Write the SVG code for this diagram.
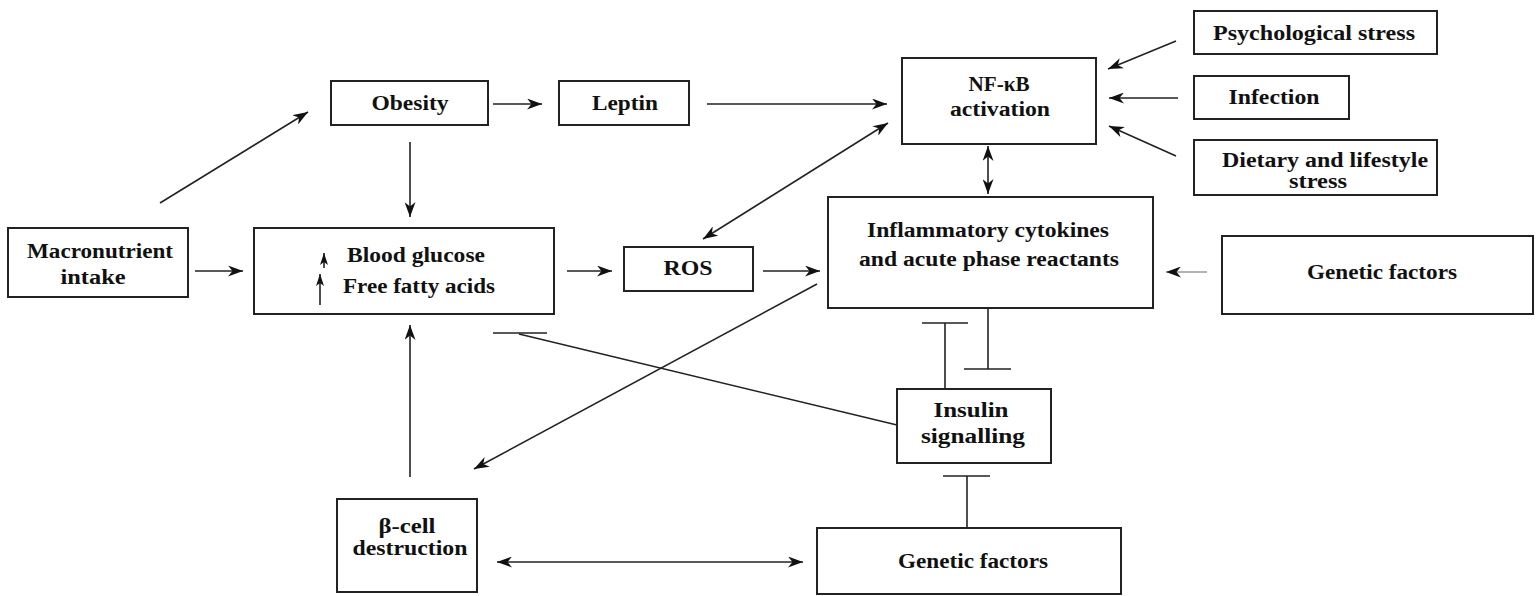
<svg xmlns="http://www.w3.org/2000/svg" width="1539" height="596" viewBox="0 0 1539 596">
<style>
.box{fill:#fff;stroke:#222;stroke-width:2}
.t{font-family:"Liberation Serif","DejaVu Serif",serif;font-weight:bold;font-size:20px;fill:#111;text-anchor:middle}
.c{stroke:#222;stroke-width:1.6;fill:none}
.a{marker-end:url(#ah)}
.b{marker-start:url(#ah);marker-end:url(#ah)}
</style>
<defs>
<marker id="ah" viewBox="0 0 15 11" refX="15" refY="5.5" markerWidth="15" markerHeight="11" markerUnits="userSpaceOnUse" orient="auto-start-reverse"><path d="M0,0 L15,5.5 L0,11 L4.5,5.5 z" fill="#111"/></marker>
<marker id="sh" viewBox="0 0 12 8" refX="12" refY="4" markerWidth="12" markerHeight="8" markerUnits="userSpaceOnUse" orient="auto"><path d="M0,0 L12,4 L0,8 L3,4 z" fill="#111"/></marker>
</defs>
<g id="connectors">
<line class="c a" x1="160" y1="203" x2="308" y2="112"/>
<line class="c a" x1="410" y1="142" x2="410" y2="217"/>
<line class="c a" x1="195" y1="271" x2="243" y2="271"/>
<line class="c a" x1="493" y1="104" x2="542" y2="104"/>
<line class="c a" x1="707" y1="104" x2="887" y2="104"/>
<line class="c b" x1="703" y1="239" x2="888" y2="123"/>
<line class="c a" x1="567" y1="271" x2="612" y2="271"/>
<line class="c a" x1="763" y1="271" x2="820" y2="271"/>
<line class="c b" x1="988" y1="146" x2="988" y2="194"/>
<line class="c a" x1="1176" y1="41" x2="1108" y2="69"/>
<line class="c a" x1="1178" y1="98" x2="1109" y2="98"/>
<line class="c a" x1="1176" y1="156" x2="1109" y2="126"/>
<line class="c a" x1="1207" y1="272" x2="1166" y2="272" style="stroke:#999"/>
<line class="c a" x1="817" y1="284" x2="474" y2="469"/>
<line class="c" x1="897" y1="425" x2="519" y2="334"/>
<line class="c" x1="493" y1="333" x2="547" y2="333"/>
<line class="c" x1="945" y1="389" x2="945" y2="323"/>
<line class="c" x1="922" y1="323" x2="968" y2="323"/>
<line class="c" x1="988" y1="308" x2="988" y2="369"/>
<line class="c" x1="964" y1="369" x2="1011" y2="369"/>
<line class="c" x1="967" y1="528" x2="967" y2="476"/>
<line class="c" x1="943" y1="476" x2="990" y2="476"/>
<line class="c a" x1="410" y1="477" x2="410" y2="325"/>
<line class="c b" x1="497" y1="562" x2="803" y2="562"/>
</g>
<g id="macronutrient">
<rect class="box" x="8" y="228" width="180" height="69"/>
<text class="t" x="100" y="258" textLength="146" lengthAdjust="spacingAndGlyphs">Macronutrient</text>
<text class="t" x="93" y="284" textLength="65" lengthAdjust="spacingAndGlyphs">intake</text>
</g>
<g id="obesity">
<rect class="box" x="331" y="81" width="157" height="44"/>
<text class="t" x="410" y="110" textLength="77" lengthAdjust="spacingAndGlyphs">Obesity</text>
</g>
<g id="leptin">
<rect class="box" x="559" y="81" width="130" height="44"/>
<text class="t" x="625" y="110" textLength="66" lengthAdjust="spacingAndGlyphs">Leptin</text>
</g>
<g id="blood">
<rect class="box" x="254" y="228" width="300" height="86"/>
<line class="c" x1="324" y1="268" x2="324" y2="253" marker-end="url(#sh)"/>
<line class="c" x1="320" y1="305" x2="320" y2="274" marker-end="url(#sh)"/>
<text class="t" x="416" y="262" textLength="138" lengthAdjust="spacingAndGlyphs">Blood glucose</text>
<text class="t" x="419" y="293" textLength="152" lengthAdjust="spacingAndGlyphs">Free fatty acids</text>
</g>
<g id="ros">
<rect class="box" x="624" y="247" width="129" height="44"/>
<text class="t" x="688" y="275" textLength="49" lengthAdjust="spacingAndGlyphs">ROS</text>
</g>
<g id="nfkb">
<rect class="box" x="902" y="58" width="194" height="86"/>
<text class="t" x="999" y="91" textLength="61" lengthAdjust="spacingAndGlyphs">NF-κB</text>
<text class="t" x="1000" y="116" textLength="100" lengthAdjust="spacingAndGlyphs">activation</text>
</g>
<g id="inflammatory">
<rect class="box" x="828" y="197" width="325" height="111"/>
<text class="t" x="988" y="237" textLength="242" lengthAdjust="spacingAndGlyphs">Inflammatory cytokines</text>
<text class="t" x="989" y="266" textLength="260" lengthAdjust="spacingAndGlyphs">and acute phase reactants</text>
</g>
<g id="psych">
<rect class="box" x="1194" y="11" width="243" height="43"/>
<text class="t" x="1314" y="40" textLength="202" lengthAdjust="spacingAndGlyphs">Psychological stress</text>
</g>
<g id="infection">
<rect class="box" x="1194" y="76" width="155" height="43"/>
<text class="t" x="1274" y="104" textLength="91" lengthAdjust="spacingAndGlyphs">Infection</text>
</g>
<g id="dietary">
<rect class="box" x="1194" y="140" width="243" height="55"/>
<text class="t" x="1325" y="167" textLength="206" lengthAdjust="spacingAndGlyphs">Dietary and lifestyle</text>
<text class="t" x="1318" y="188" textLength="58" lengthAdjust="spacingAndGlyphs">stress</text>
</g>
<g id="genetic-right">
<rect class="box" x="1222" y="236" width="311" height="78"/>
<text class="t" x="1382" y="279" textLength="150" lengthAdjust="spacingAndGlyphs">Genetic factors</text>
</g>
<g id="insulin">
<rect class="box" x="897" y="389" width="154" height="74"/>
<text class="t" x="971" y="417" textLength="75" lengthAdjust="spacingAndGlyphs">Insulin</text>
<text class="t" x="973" y="443" textLength="104" lengthAdjust="spacingAndGlyphs">signalling</text>
</g>
<g id="betacell">
<rect class="box" x="337" y="499" width="140" height="93"/>
<text class="t" x="407" y="533" textLength="57" lengthAdjust="spacingAndGlyphs">β-cell</text>
<text class="t" x="410" y="555" textLength="115" lengthAdjust="spacingAndGlyphs">destruction</text>
</g>
<g id="genetic-bottom">
<rect class="box" x="817" y="528" width="304" height="66"/>
<text class="t" x="973" y="568" textLength="150" lengthAdjust="spacingAndGlyphs">Genetic factors</text>
</g>
</svg>
